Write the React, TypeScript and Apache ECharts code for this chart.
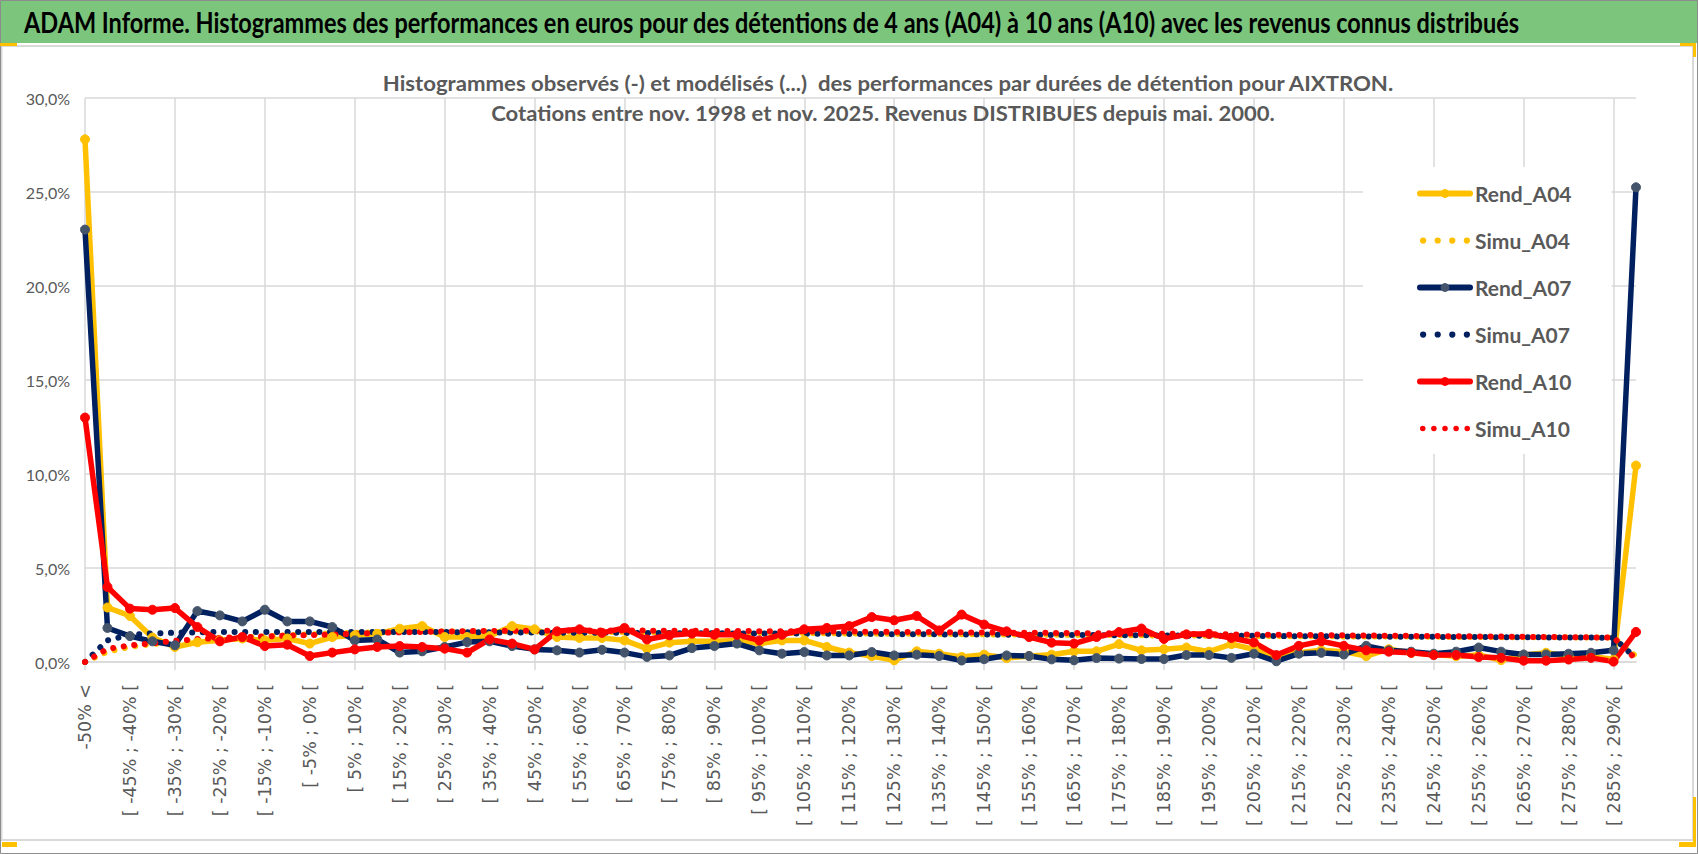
import React, { useEffect, useRef } from "react";
import * as echarts from "echarts";

const categories = [
  "-50% <", "[ -50% ; -45% [", "[ -45% ; -40% [", "[ -40% ; -35% [", "[ -35% ; -30% [",
  "[ -30% ; -25% [", "[ -25% ; -20% [", "[ -20% ; -15% [", "[ -15% ; -10% [", "[ -10% ; -5% [",
  "[ -5% ; 0% [", "[ 0% ; 5% [", "[ 5% ; 10% [", "[ 10% ; 15% [", "[ 15% ; 20% [",
  "[ 20% ; 25% [", "[ 25% ; 30% [", "[ 30% ; 35% [", "[ 35% ; 40% [", "[ 40% ; 45% [",
  "[ 45% ; 50% [", "[ 50% ; 55% [", "[ 55% ; 60% [", "[ 60% ; 65% [", "[ 65% ; 70% [",
  "[ 70% ; 75% [", "[ 75% ; 80% [", "[ 80% ; 85% [", "[ 85% ; 90% [", "[ 90% ; 95% [",
  "[ 95% ; 100% [", "[ 100% ; 105% [", "[ 105% ; 110% [", "[ 110% ; 115% [", "[ 115% ; 120% [",
  "[ 120% ; 125% [", "[ 125% ; 130% [", "[ 130% ; 135% [", "[ 135% ; 140% [", "[ 140% ; 145% [",
  "[ 145% ; 150% [", "[ 150% ; 155% [", "[ 155% ; 160% [", "[ 160% ; 165% [", "[ 165% ; 170% [",
  "[ 170% ; 175% [", "[ 175% ; 180% [", "[ 180% ; 185% [", "[ 185% ; 190% [", "[ 190% ; 195% [",
  "[ 195% ; 200% [", "[ 200% ; 205% [", "[ 205% ; 210% [", "[ 210% ; 215% [", "[ 215% ; 220% [",
  "[ 220% ; 225% [", "[ 225% ; 230% [", "[ 230% ; 235% [", "[ 235% ; 240% [", "[ 240% ; 245% [",
  "[ 245% ; 250% [", "[ 250% ; 255% [", "[ 255% ; 260% [", "[ 260% ; 265% [", "[ 265% ; 270% [",
  "[ 270% ; 275% [", "[ 275% ; 280% [", "[ 280% ; 285% [", "[ 285% ; 290% [", "290% >",
];

const rendA04 = [
  27.8, 2.9, 2.45, 1.3, 0.8, 1.05, 1.15, 1.25, 1.15, 1.25,
  0.98, 1.33, 1.42, 1.5, 1.77, 1.91, 1.33, 1.33, 1.38, 1.91,
  1.74, 1.33, 1.28, 1.28, 1.15, 0.71, 1.03, 1.1, 1.1, 1.15,
  0.98, 1.15, 1.15, 0.8, 0.5, 0.32, 0.09, 0.57, 0.44, 0.27,
  0.39, 0.21, 0.32, 0.39, 0.57, 0.57, 0.95, 0.62, 0.68, 0.77,
  0.55, 0.95, 0.68, 0.31, 0.49, 0.62, 0.55, 0.31, 0.68, 0.49,
  0.4, 0.31, 0.37, 0.1, 0.37, 0.49, 0.31, 0.31, 0.13, 10.45,
];

const simuA04 = [
  0, 0.55, 0.8, 0.95, 1.05, 1.15, 1.22, 1.3, 1.36, 1.42,
  1.47, 1.52, 1.55, 1.58, 1.6, 1.61, 1.62, 1.62, 1.62, 1.62,
  1.62, 1.61, 1.61, 1.6, 1.6, 1.59, 1.58, 1.58, 1.57, 1.56,
  1.55, 1.55, 1.54, 1.53, 1.52, 1.51, 1.5, 1.5, 1.49, 1.48,
  1.47, 1.46, 1.46, 1.45, 1.44, 1.43, 1.43, 1.42, 1.41, 1.41,
  1.4, 1.39, 1.39, 1.38, 1.37, 1.37, 1.36, 1.36, 1.35, 1.35,
  1.34, 1.33, 1.33, 1.32, 1.32, 1.31, 1.31, 1.3, 1.3, 0.3,
];

const rendA07 = [
  23.0, 1.81, 1.38, 1.1, 0.89, 2.71, 2.48, 2.16, 2.78, 2.16,
  2.16, 1.86, 1.15, 1.2, 0.5, 0.57, 0.8, 1.06, 1.1, 0.85,
  0.67, 0.62, 0.5, 0.65, 0.5, 0.27, 0.35, 0.74, 0.85, 0.98,
  0.62, 0.44, 0.53, 0.35, 0.35, 0.53, 0.35, 0.39, 0.32, 0.08,
  0.15, 0.35, 0.32, 0.14, 0.09, 0.21, 0.18, 0.16, 0.16, 0.37,
  0.37, 0.22, 0.44, 0.04, 0.44, 0.49, 0.4, 0.86, 0.62, 0.55,
  0.44, 0.55, 0.77, 0.55, 0.4, 0.4, 0.44, 0.49, 0.62, 25.25,
];

const simuA07 = [
  0, 1.15, 1.45, 1.52, 1.56, 1.58, 1.6, 1.6, 1.6, 1.6,
  1.6, 1.6, 1.6, 1.6, 1.6, 1.59, 1.59, 1.58, 1.58, 1.57,
  1.57, 1.56, 1.56, 1.55, 1.55, 1.54, 1.54, 1.53, 1.53, 1.52,
  1.52, 1.51, 1.51, 1.5, 1.49, 1.49, 1.48, 1.48, 1.47, 1.46,
  1.46, 1.45, 1.45, 1.44, 1.43, 1.43, 1.42, 1.42, 1.41, 1.4,
  1.4, 1.39, 1.39, 1.38, 1.37, 1.37, 1.36, 1.36, 1.35, 1.34,
  1.34, 1.33, 1.33, 1.32, 1.31, 1.31, 1.3, 1.3, 1.29, 0.2,
];

const rendA10 = [
  13.0, 3.99, 2.84, 2.78, 2.87, 1.86, 1.1, 1.33, 0.85, 0.92,
  0.32, 0.5, 0.67, 0.8, 0.85, 0.8, 0.71, 0.5, 1.2, 0.98,
  0.67, 1.63, 1.74, 1.55, 1.81, 1.2, 1.42, 1.51, 1.45, 1.45,
  1.15, 1.45, 1.74, 1.81, 1.91, 2.39, 2.22, 2.45, 1.68, 2.52,
  1.99, 1.63, 1.33, 1.03, 0.98, 1.33, 1.59, 1.78, 1.23, 1.47,
  1.5, 1.28, 1.04, 0.37, 0.86, 1.1, 0.86, 0.62, 0.55, 0.49,
  0.37, 0.37, 0.26, 0.22, 0.07, 0.07, 0.13, 0.22, 0.02, 1.6,
];

const simuA10 = [
  0, 0.7, 0.88, 1.0, 1.12, 1.22, 1.28, 1.32, 1.36, 1.4,
  1.43, 1.46, 1.5, 1.55, 1.58, 1.6, 1.62, 1.64, 1.65, 1.66,
  1.66, 1.67, 1.67, 1.67, 1.67, 1.67, 1.66, 1.66, 1.65, 1.65,
  1.64, 1.64, 1.63, 1.62, 1.62, 1.61, 1.6, 1.6, 1.59, 1.58,
  1.57, 1.56, 1.56, 1.55, 1.54, 1.53, 1.52, 1.51, 1.5, 1.49,
  1.48, 1.47, 1.46, 1.45, 1.44, 1.43, 1.42, 1.41, 1.4, 1.39,
  1.38, 1.37, 1.36, 1.35, 1.34, 1.33, 1.32, 1.31, 1.3, 0.15,
];

const yTicks = [0, 5, 10, 15, 20, 25, 30];

const TITLE =
  "ADAM Informe. Histogrammes des performances en euros pour des détentions de 4 ans (A04) à 10 ans (A10) avec les revenus connus distribués";
const SUB1 =
  "Histogrammes observés (-) et modélisés (...)  des performances par durées de détention pour AIXTRON.";
const SUB2 = "Cotations entre nov. 1998 et nov. 2025. Revenus DISTRIBUES depuis mai. 2000.";

const SANS = "Lato, 'Open Sans', sans-serif";
const GRAY = "#595959";
const GRID = "#d9d9d9";

const YELLOW = "#FFC000";
const NAVY = "#002060";
const RED = "#FF0000";

const DOTS4 =
  "path://M0,3a3,3 0 1,0 6,0a3,3 0 1,0 -6,0M14,3a3,3 0 1,0 6,0a3,3 0 1,0 -6,0M28,3a3,3 0 1,0 6,0a3,3 0 1,0 -6,0M42,3a3,3 0 1,0 6,0a3,3 0 1,0 -6,0";
const DOTS5 =
  "path://M0,3a3,3 0 1,0 6,0a3,3 0 1,0 -6,0M12,3a3,3 0 1,0 6,0a3,3 0 1,0 -6,0M24,3a3,3 0 1,0 6,0a3,3 0 1,0 -6,0M36,3a3,3 0 1,0 6,0a3,3 0 1,0 -6,0M48,3a3,3 0 1,0 6,0a3,3 0 1,0 -6,0";

function measure(text: string, font: string): number {
  const ctx = document.createElement("canvas").getContext("2d");
  if (!ctx) return 0;
  ctx.font = font;
  return ctx.measureText(text).width;
}

function fitScale(text: string, size: number, target: number): number {
  const w = measure(text, `bold ${size}px Lato`);
  return w > 0 ? target / w : 1;
}

function solid(name: string, data: number[], color: string, marker: string) {
  return {
    name,
    type: "line",
    data,
    symbol: "circle",
    symbolSize: 9,
    showSymbol: true,
    showAllSymbol: true,
    lineStyle: { color, width: 5.5, join: "round", cap: "round" },
    itemStyle: { color: marker, borderColor: marker },
  };
}

function dotted(name: string, data: number[], color: string) {
  return {
    name,
    type: "line",
    data,
    symbol: "none",
    showSymbol: false,
    itemStyle: { color },
    lineStyle: { color, width: 6, type: [0.1, 10.5], cap: "round" },
  };
}

export default function App() {
  const ref = useRef<HTMLDivElement>(null);
  useEffect(() => {
    const chart = echarts.init(ref.current!, null, { renderer: "svg" });
    const titleScale = fitScale(TITLE, 28, 1496);
    const sub1Scale = fitScale(SUB1, 21, 1013);
    const sub2Scale = fitScale(SUB2, 21, 784);
    chart.setOption({
      animation: false,
      backgroundColor: "#ffffff",
      graphic: [
        { type: "rect", shape: { x: 0, y: 0, width: 1698, height: 43 }, style: { fill: "#7CC57D" }, z: 0 },
        {
          type: "rect",
          shape: { x: 1.5, y: 46, width: 1691.5, height: 794 },
          style: { fill: "none", stroke: "#d9d9d9", lineWidth: 2 },
          z: 0,
        },
        {
          type: "rect",
          shape: { x: 0.5, y: 0.5, width: 1697, height: 853 },
          style: { fill: "none", stroke: "#8c8c8c", lineWidth: 1 },
          z: 1,
        },
        { type: "rect", shape: { x: 0, y: 43, width: 17, height: 3 }, style: { fill: YELLOW }, z: 1 },
        { type: "rect", shape: { x: 1680, y: 43, width: 16, height: 3 }, style: { fill: YELLOW }, z: 1 },
        { type: "rect", shape: { x: 1693, y: 43, width: 3, height: 14 }, style: { fill: YELLOW }, z: 1 },
        { type: "rect", shape: { x: 2, y: 842, width: 15, height: 5 }, style: { fill: YELLOW }, z: 1 },
        { type: "rect", shape: { x: 1679, y: 842, width: 17, height: 5 }, style: { fill: YELLOW }, z: 1 },
        { type: "rect", shape: { x: 1693, y: 797, width: 3, height: 50 }, style: { fill: YELLOW }, z: 1 },
        {
          type: "text",
          x: 24,
          y: 22,
          scaleX: titleScale,
          style: {
            text: TITLE,
            fontSize: 28,
            fontWeight: "bold",
            fontFamily: "Lato",
            fill: "#000000",
            align: "left",
            verticalAlign: "middle",
          },
          z: 2,
        },
        {
          type: "text",
          x: 888,
          y: 83,
          scaleX: sub1Scale,
          style: {
            text: SUB1,
            fontSize: 21,
            fontWeight: "bold",
            fontFamily: "Lato",
            fill: GRAY,
            align: "center",
            verticalAlign: "middle",
          },
          z: 2,
        },
        {
          type: "text",
          x: 883,
          y: 113,
          scaleX: sub2Scale,
          style: {
            text: SUB2,
            fontSize: 21,
            fontWeight: "bold",
            fontFamily: "Lato",
            fill: GRAY,
            align: "center",
            verticalAlign: "middle",
          },
          z: 2,
        },
      ],
      grid: { left: 85, right: 62, top: 98, bottom: 192, containLabel: false },
      legend: {
        orient: "vertical",
        left: 1363,
        top: 167,
        padding: [16, 40, 15, 54],
        itemWidth: 50,
        itemHeight: 11,
        itemGap: 26,
        backgroundColor: "#ffffff",
        lineStyle: { width: 6 },
        textStyle: { fontSize: 21, fontWeight: "bold", color: GRAY, fontFamily: SANS },
        data: [
          { name: "Rend_A04" },
          { name: "Simu_A04", icon: DOTS4, itemStyle: { color: YELLOW } },
          { name: "Rend_A07" },
          { name: "Simu_A07", icon: DOTS4, itemStyle: { color: NAVY } },
          { name: "Rend_A10" },
          { name: "Simu_A10", icon: DOTS5, itemStyle: { color: RED } },
        ],
      },
      xAxis: {
        type: "category",
        data: categories,
        boundaryGap: false,
        axisLine: { show: true, lineStyle: { color: GRID, width: 1.5 } },
        axisTick: { show: true, interval: 3, length: 8, lineStyle: { color: GRID, width: 1.5 } },
        splitLine: { show: true, interval: 3, lineStyle: { color: GRID, width: 1.5 } },
        axisLabel: {
          interval: 1,
          rotate: 90,
          margin: 22,
          fontSize: 17.5,
          fontFamily: "'DejaVu Sans', sans-serif",
          color: GRAY,
        },
      },
      yAxis: {
        type: "value",
        min: 0,
        max: 30,
        interval: 5,
        axisLine: { show: false },
        axisTick: { show: false },
        splitLine: { show: true, lineStyle: { color: GRID, width: 1.5 } },
        axisLabel: {
          margin: 15,
          fontSize: 16,
          fontFamily: SANS,
          color: GRAY,
          customValues: yTicks,
          formatter: (v: number) => v.toFixed(1).replace(".", ",") + "%",
        },
      },
      series: [
        solid("Rend_A04", rendA04, YELLOW, YELLOW),
        dotted("Simu_A04", simuA04, YELLOW),
        solid("Rend_A07", rendA07, NAVY, "#44546A"),
        dotted("Simu_A07", simuA07, NAVY),
        solid("Rend_A10", rendA10, RED, RED),
        dotted("Simu_A10", simuA10, RED),
      ],
    });
    return () => chart.dispose();
  }, []);
  return (
    <div
      ref={ref}
      style={{ position: "fixed", left: 0, top: 0, width: 1698, height: 854, background: "#fff" }}
    />
  );
}
